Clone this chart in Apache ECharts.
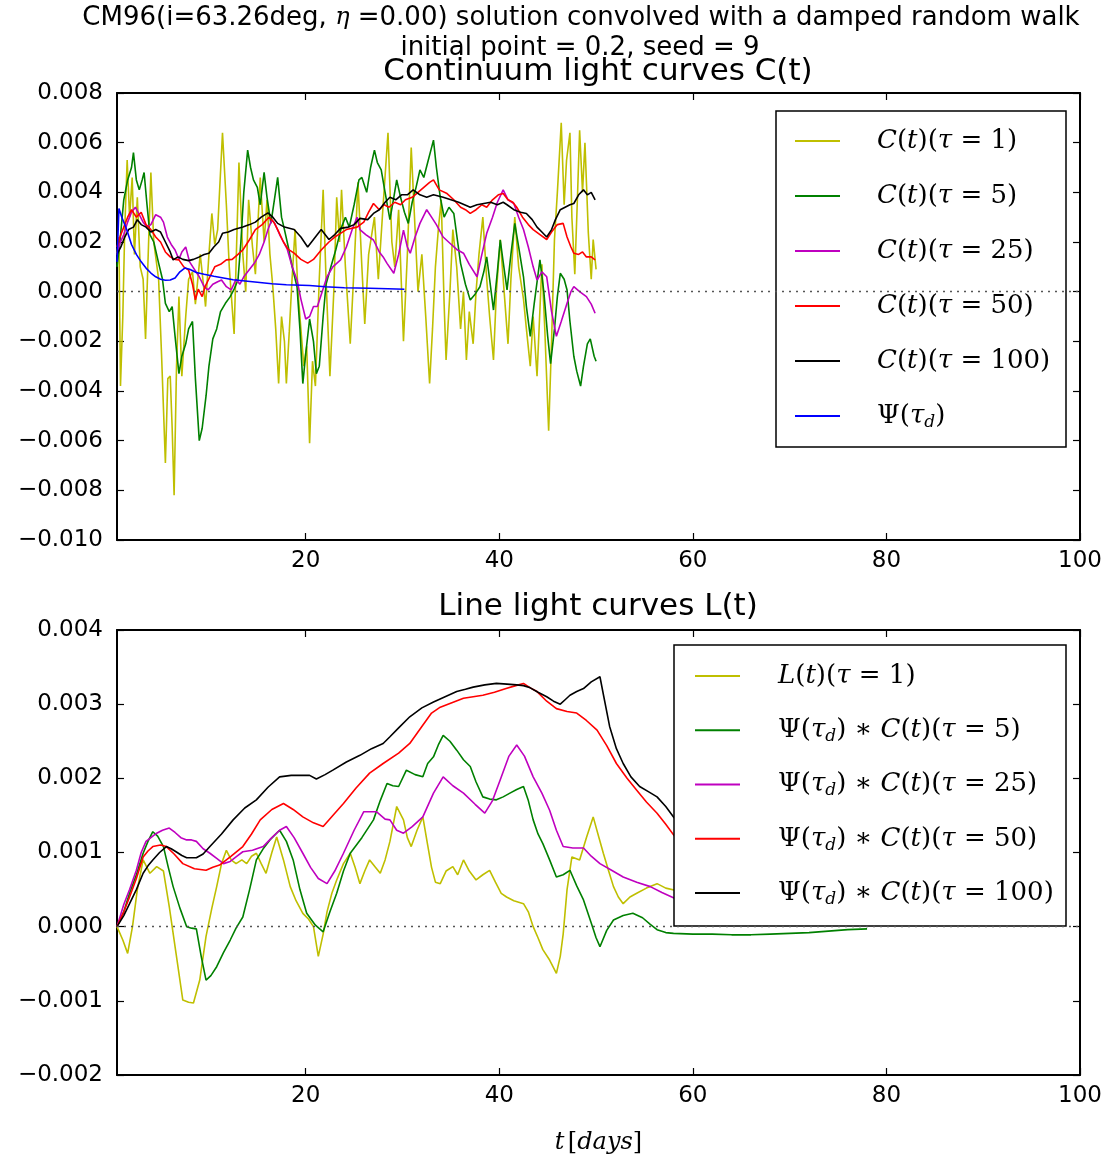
<!DOCTYPE html>
<html><head><meta charset="utf-8">
<script src="https://cdn.jsdelivr.net/npm/echarts@6/dist/echarts.min.js"></script>
<style>html,body{margin:0;padding:0;background:#fff}#c{width:1112px;height:1158px}</style>
</head><body><div id="c"></div>
<script>
// Values are in units of 1e-3 (axis labels show real values)
const SCALE = 0.001;
const xTicks = [20, 40, 60, 80, 100];

// ---- Top panel: continuum light curves C(t) ----
const C_tau1 = [[0.5,1.5],[0.7,2.2],[0.86,-3.8],[1.1,-1.0],[1.3,2.5],[1.55,5.3],[1.8,3.0],[2.07,4.6],[2.3,1.5],[2.6,3.8],[2.9,1.0],[3.2,0.5],[3.45,-1.9],[3.7,1.2],[4.0,4.8],[4.3,2.0],[4.8,0.5],[5.1,-2.5],[5.5,-6.9],[5.75,-3.5],[6.0,-3.4],[6.2,-5.5],[6.4,-8.2],[6.65,-3.0],[6.9,-0.2],[7.2,-3.4],[7.6,-1.0],[7.9,0.5],[8.3,0.8],[8.6,-0.5],[9.1,1.5],[9.4,0.4],[9.65,-0.6],[10.0,1.5],[10.3,3.15],[10.6,1.9],[10.9,2.5],[11.4,6.4],[11.8,3.5],[12.1,1.0],[12.6,-1.7],[13.1,5.2],[13.5,1.5],[13.8,0.0],[14.1,3.7],[14.5,1.8],[14.8,0.7],[15.3,4.6],[15.7,2.0],[16.0,3.7],[16.3,1.5],[16.6,0.2],[16.9,-1.5],[17.2,-3.7],[17.5,-1.0],[17.8,-2.0],[18.0,-3.7],[18.3,-1.6],[18.6,0.6],[18.9,2.5],[19.2,0.0],[19.5,-1.5],[19.8,-3.0],[20.1,-2.2],[20.4,-6.1],[20.7,-2.8],[21.0,-3.8],[21.4,0.5],[21.8,4.1],[22.1,0.5],[22.5,-3.4],[22.9,0.0],[23.2,3.8],[23.5,2.0],[23.7,4.1],[24.1,1.0],[24.6,-2.1],[25.0,1.0],[25.4,4.4],[25.8,1.0],[26.1,-1.3],[26.5,1.5],[27.1,3.0],[27.5,0.5],[28.0,3.5],[28.5,6.4],[28.9,2.0],[29.2,1.0],[29.6,3.3],[30.1,-2.0],[30.5,1.5],[30.9,5.8],[31.3,2.5],[31.6,0.0],[32.0,1.5],[32.4,-1.0],[32.8,-3.7],[33.1,-1.5],[33.4,1.0],[33.7,2.5],[34.0,3.7],[34.3,-0.5],[34.5,-2.75],[34.9,0.0],[35.2,2.5],[35.6,1.0],[36.0,-1.5],[36.3,0.0],[36.6,-2.75],[36.9,-0.8],[37.3,-2.1],[37.6,0.0],[37.9,1.5],[38.3,3.0],[38.7,0.5],[39.0,-1.0],[39.4,-2.75],[39.7,0.0],[40.1,2.1],[40.5,0.0],[40.9,-2.1],[41.2,0.5],[41.6,3.0],[42.0,1.0],[42.5,-0.3],[42.8,-1.5],[43.2,-3.0],[43.5,-1.0],[43.9,-3.4],[44.4,1.1],[44.7,-1.5],[45.1,-5.6],[45.4,-2.0],[45.7,2.1],[46.0,4.0],[46.4,6.8],[46.7,3.5],[46.95,5.3],[47.3,6.4],[47.5,3.0],[47.8,0.7],[48.05,3.5],[48.3,6.5],[48.6,4.0],[48.85,6.0],[49.2,2.35],[49.5,0.5],[49.7,2.1],[50.0,0.9]];
const C_tau5 = [[0.5,1.0],[0.8,2.0],[1.2,3.7],[1.6,4.5],[2.0,5.0],[2.2,5.6],[2.5,4.5],[2.8,4.1],[3.1,4.5],[3.3,4.8],[3.6,3.5],[3.9,2.3],[4.3,2.0],[4.8,1.15],[5.2,0.5],[5.5,-0.47],[5.9,-0.8],[6.2,-0.6],[6.5,-1.8],[6.9,-3.3],[7.2,-2.6],[7.6,-2.1],[7.9,-1.5],[8.3,-1.2],[8.6,-3.5],[9.0,-6.0],[9.3,-5.5],[9.7,-4.2],[10.0,-3.0],[10.4,-1.9],[10.8,-1.5],[11.2,-0.8],[11.7,-0.47],[12.2,-0.2],[12.6,0.1],[13.0,0.47],[13.3,2.0],[13.6,4.0],[14.0,5.7],[14.3,5.0],[14.6,4.5],[15.0,4.2],[15.3,3.5],[15.7,4.8],[16.0,3.8],[16.4,2.75],[16.8,3.8],[17.1,4.6],[17.5,3.0],[17.8,2.5],[18.2,1.8],[18.6,1.0],[19.1,0.2],[19.4,-1.5],[19.7,-3.7],[20.0,-2.5],[20.4,-1.1],[20.8,-2.0],[21.1,-3.3],[21.4,-3.0],[21.8,-1.0],[22.1,0.3],[22.6,1.0],[23.1,1.68],[23.7,2.6],[24.1,3.0],[24.5,2.6],[25.0,3.5],[25.5,4.5],[25.8,4.6],[26.3,4.0],[26.7,5.0],[27.1,5.7],[27.4,5.2],[27.8,4.9],[28.2,4.0],[28.7,2.9],[29.1,3.8],[29.4,4.5],[29.8,3.8],[30.2,3.2],[30.6,2.75],[31.0,3.6],[31.4,4.2],[31.8,4.9],[32.2,4.6],[32.6,5.2],[33.0,5.8],[33.2,6.1],[33.5,5.0],[33.9,3.8],[34.3,3.0],[34.8,3.4],[35.3,3.15],[35.7,2.0],[36.0,1.14],[36.5,0.3],[37.0,-0.34],[37.5,-0.1],[38.0,0.2],[38.4,0.8],[38.7,1.4],[39.0,0.5],[39.4,-0.74],[39.8,0.8],[40.1,2.08],[40.4,1.2],[40.8,0.07],[41.2,1.5],[41.6,2.75],[42.0,1.8],[42.5,0.6],[42.8,-0.6],[43.2,-1.8],[43.6,-0.5],[44.2,1.28],[44.6,0.0],[45.0,-1.8],[45.3,-2.9],[45.7,-1.5],[46.0,-0.2],[46.3,0.74],[46.7,0.5],[47.0,0.07],[47.3,-1.2],[47.7,-2.6],[48.0,-3.2],[48.4,-3.8],[48.7,-3.0],[49.1,-2.1],[49.4,-1.9],[49.8,-2.6],[50.0,-2.8]];
const C_tau25 = [[0.5,1.5],[0.8,1.95],[1.2,2.3],[1.6,2.8],[2.0,3.2],[2.4,3.4],[2.8,3.1],[3.2,2.8],[3.6,2.6],[4.0,2.7],[4.5,3.1],[5.0,3.0],[5.3,2.8],[5.7,2.2],[6.1,1.9],[6.5,1.68],[6.9,1.3],[7.2,1.6],[7.6,1.8],[8.0,1.2],[8.5,0.9],[9.0,0.6],[9.5,0.2],[9.9,0.07],[10.4,0.3],[10.9,0.4],[11.3,0.47],[11.8,0.2],[12.3,0.07],[12.8,0.5],[13.2,0.3],[13.6,0.6],[14.2,0.9],[14.7,1.15],[15.2,1.5],[15.7,2.0],[16.1,2.5],[16.5,2.9],[16.8,2.75],[17.3,2.3],[17.7,2.0],[18.1,1.7],[18.6,1.0],[19.1,0.47],[19.5,-0.3],[20.0,-1.1],[20.4,-1.0],[20.8,-0.6],[21.2,-0.6],[21.7,0.0],[22.2,0.6],[22.8,1.0],[23.6,1.28],[24.2,1.8],[24.8,2.5],[25.3,3.0],[25.6,2.5],[26.2,2.3],[27.0,2.08],[27.6,1.6],[28.0,1.4],[28.4,1.14],[29.1,0.74],[29.6,1.5],[30.1,2.48],[30.5,1.8],[30.8,1.55],[31.3,2.2],[31.8,2.75],[32.5,3.3],[33.0,3.0],[33.5,2.7],[34.2,2.2],[34.9,1.95],[35.6,1.7],[36.3,1.55],[36.9,1.1],[37.7,0.6],[38.2,1.5],[38.7,2.35],[39.3,3.0],[39.8,3.6],[40.4,4.1],[40.9,3.7],[41.5,3.55],[42.0,3.0],[42.5,2.5],[43.0,1.8],[43.5,1.0],[43.9,0.47],[44.4,0.8],[44.9,0.6],[45.4,-0.8],[45.9,-1.8],[46.4,-1.2],[47.0,-0.47],[47.4,0.0],[47.7,0.2],[48.3,0.0],[49.0,-0.2],[49.5,-0.5],[49.9,-0.87]];
const C_tau50 = [[0.5,1.8],[0.8,2.2],[1.2,2.6],[1.6,3.0],[2.0,3.3],[2.5,3.0],[3.0,3.2],[3.5,2.7],[4.0,2.5],[4.5,2.2],[5.0,2.0],[5.5,1.6],[6.0,1.4],[6.5,1.3],[6.9,1.28],[7.4,1.0],[7.9,0.87],[8.3,0.3],[8.6,-0.33],[8.9,0.1],[9.3,-0.2],[9.6,0.2],[10.1,0.6],[10.6,1.0],[11.2,1.1],[11.8,1.28],[12.4,1.3],[13.0,1.5],[13.5,1.68],[14.2,2.1],[14.8,2.5],[15.5,2.7],[16.2,3.0],[16.7,2.8],[17.1,2.5],[17.7,2.0],[18.2,1.7],[18.8,1.55],[19.5,1.3],[20.2,1.15],[20.8,1.3],[21.6,1.68],[22.4,2.0],[23.0,2.2],[23.6,2.35],[24.2,2.5],[25.3,2.6],[26.0,2.8],[26.5,3.2],[27.0,3.55],[27.6,3.3],[28.1,3.5],[28.6,3.4],[29.2,3.6],[29.8,3.5],[30.3,3.7],[31.0,3.8],[31.6,4.0],[32.2,4.2],[32.8,4.4],[33.2,4.5],[33.8,4.1],[34.6,3.95],[35.3,3.7],[36.0,3.4],[36.5,3.3],[37.0,3.15],[37.6,3.3],[38.2,3.5],[38.7,3.4],[39.3,3.7],[39.9,3.9],[40.4,3.95],[40.9,3.7],[41.4,3.6],[41.8,3.4],[42.4,3.0],[43.0,2.7],[43.5,2.5],[44.2,2.3],[44.9,2.1],[45.4,2.4],[46.0,2.7],[46.6,2.75],[47.0,2.2],[47.4,1.8],[47.7,1.55],[48.2,1.5],[48.6,1.6],[49.0,1.4],[49.5,1.4],[49.9,1.28]];
const C_tau100 = [[0.5,1.5],[0.9,1.8],[1.3,2.2],[1.7,2.5],[2.2,2.6],[2.6,2.9],[3.0,2.7],[3.5,2.6],[4.0,2.4],[4.5,2.5],[5.0,2.4],[5.5,2.0],[6.0,1.6],[6.3,1.28],[6.8,1.4],[7.3,1.3],[7.9,1.25],[8.4,1.3],[9.0,1.4],[9.5,1.5],[10.0,1.55],[10.5,1.8],[11.0,2.0],[11.4,2.35],[12.0,2.4],[12.6,2.5],[13.5,2.6],[14.2,2.7],[14.8,2.8],[15.4,3.0],[16.1,3.17],[16.6,3.0],[17.1,2.75],[17.8,2.6],[18.8,2.5],[19.5,2.2],[20.2,1.8],[20.8,2.1],[21.6,2.5],[22.4,2.1],[23.0,2.3],[23.6,2.55],[24.4,2.6],[25.0,2.7],[25.6,2.95],[26.4,2.9],[27.0,3.15],[27.6,3.3],[28.2,3.6],[28.7,3.8],[29.3,3.7],[29.9,3.9],[30.5,3.9],[31.1,4.1],[31.8,3.9],[32.5,3.8],[33.2,3.9],[34.2,3.8],[35.0,3.7],[35.8,3.6],[36.4,3.5],[37.0,3.4],[37.7,3.5],[38.4,3.55],[39.1,3.6],[39.8,3.5],[40.4,3.6],[40.8,3.5],[41.5,3.3],[42.2,3.2],[42.8,3.15],[43.4,2.9],[43.9,2.6],[44.4,2.4],[44.9,2.2],[45.4,2.5],[45.8,2.9],[46.3,3.3],[46.8,3.4],[47.3,3.5],[47.7,3.55],[48.2,3.9],[48.7,4.1],[49.1,3.9],[49.5,4.0],[49.9,3.7]];
const Psi_td = [[0.5,1.2],[0.7,3.35],[1.0,3.0],[1.5,2.5],[2.0,1.9],[2.5,1.5],[3.0,1.2],[3.5,0.95],[4.0,0.75],[4.5,0.6],[5.0,0.5],[5.5,0.46],[6.0,0.47],[6.5,0.55],[7.0,0.8],[7.5,0.95],[8.0,0.9],[8.7,0.77],[9.5,0.7],[10.5,0.62],[11.5,0.55],[12.5,0.48],[13.5,0.44],[15.0,0.38],[16.5,0.32],[18.0,0.28],[20.4,0.25],[22.0,0.2],[24.0,0.16],[26.6,0.14],[28.5,0.12],[30.2,0.1]];

// ---- Bottom panel: line light curves L(t) ----
const L_tau1 = [[0.5,0.0],[1.1,-0.18],[1.6,-0.36],[2.1,0.0],[2.6,0.5],[3.2,0.9],[3.9,0.72],[4.6,0.81],[5.3,0.75],[5.9,0.27],[6.6,-0.36],[7.3,-0.99],[7.9,-1.02],[8.4,-1.03],[9.05,-0.72],[9.7,-0.13],[10.3,0.25],[10.8,0.54],[11.3,0.85],[11.8,1.03],[12.3,0.9],[12.8,0.85],[13.4,0.9],[13.9,0.85],[14.4,0.95],[14.9,0.99],[15.4,0.85],[15.9,0.72],[16.5,1.0],[17.0,1.21],[17.7,0.9],[18.4,0.54],[19.0,0.35],[19.7,0.18],[20.3,0.1],[20.8,0.0],[21.3,-0.4],[21.8,-0.1],[22.2,0.2],[22.7,0.45],[23.2,0.63],[23.9,0.85],[24.6,0.99],[25.1,0.8],[25.6,0.58],[26.1,0.75],[26.6,0.9],[27.2,0.8],[27.7,0.72],[28.2,0.9],[28.7,1.15],[29.4,1.62],[30.1,1.44],[30.5,1.2],[30.9,1.08],[31.5,1.3],[32.1,1.48],[32.6,1.1],[33.0,0.8],[33.4,0.6],[33.9,0.58],[34.5,0.75],[35.2,0.81],[35.7,0.7],[36.3,0.9],[36.9,0.75],[37.6,0.63],[38.3,0.7],[39.0,0.76],[39.6,0.6],[40.2,0.45],[40.75,0.4],[41.5,0.35],[42.5,0.31],[43.0,0.2],[43.5,0.0],[44.0,-0.15],[44.5,-0.31],[45.2,-0.45],[45.9,-0.63],[46.3,-0.4],[46.6,-0.1],[47.0,0.5],[47.5,0.94],[48.3,0.9],[49.0,1.2],[49.7,1.48],[50.3,1.2],[50.75,0.99],[51.3,0.75],[51.8,0.54],[52.3,0.4],[52.8,0.31],[53.5,0.4],[54.2,0.45],[55.2,0.52],[56.3,0.58],[57.2,0.52],[58.5,0.48]];
const PsiC_tau5 = [[0.5,0.0],[1.2,0.2],[1.8,0.45],[2.5,0.7],[3.2,0.99],[3.7,1.15],[4.2,1.28],[4.7,1.22],[5.3,1.08],[5.8,0.8],[6.3,0.54],[7.0,0.25],[7.7,0.0],[8.2,-0.02],[8.7,-0.03],[9.2,-0.4],[9.7,-0.72],[10.2,-0.66],[10.8,-0.54],[11.5,-0.35],[12.2,-0.18],[12.8,-0.02],[13.5,0.13],[14.2,0.5],[14.9,0.9],[15.6,1.05],[16.3,1.17],[17.3,1.3],[18.0,1.15],[18.7,0.9],[19.4,0.5],[20.1,0.18],[21.0,0.02],[21.8,-0.07],[22.5,0.2],[23.2,0.45],[23.9,0.75],[24.6,0.99],[25.8,1.2],[27.0,1.44],[27.7,1.7],[28.4,1.93],[29.0,1.9],[29.6,1.89],[30.4,2.11],[31.3,2.05],[32.1,2.02],[32.6,2.2],[33.2,2.29],[33.7,2.45],[34.2,2.58],[34.9,2.5],[35.6,2.38],[36.3,2.25],[37.0,2.16],[37.6,1.95],[38.3,1.75],[39.0,1.72],[39.7,1.71],[40.4,1.75],[41.1,1.8],[41.8,1.85],[42.5,1.89],[43.0,1.7],[43.5,1.44],[44.0,1.25],[44.5,1.12],[45.2,0.9],[45.9,0.67],[46.6,0.7],[47.3,0.76],[48.0,0.55],[48.7,0.36],[49.5,0.05],[50.0,-0.15],[50.4,-0.27],[51.1,-0.05],[51.8,0.09],[52.8,0.15],[53.8,0.18],[54.8,0.12],[55.6,0.03],[56.3,-0.04],[57.2,-0.08],[58.0,-0.09],[60.0,-0.1],[62.0,-0.1],[64.0,-0.11],[66.0,-0.11],[68.0,-0.1],[70.0,-0.09],[72.0,-0.08],[74.0,-0.06],[76.0,-0.04],[78.0,-0.03]];
const PsiC_tau25 = [[0.5,0.0],[1.2,0.3],[1.8,0.5],[2.5,0.76],[3.0,1.0],[3.5,1.15],[4.0,1.2],[4.6,1.26],[5.2,1.3],[5.9,1.33],[6.5,1.27],[7.1,1.2],[7.7,1.17],[8.2,1.17],[8.7,1.15],[9.4,1.05],[10.1,0.99],[10.8,0.92],[11.5,0.85],[12.2,0.88],[12.9,0.95],[13.5,1.01],[14.5,1.03],[15.6,1.08],[16.5,1.2],[17.3,1.3],[18.0,1.35],[18.8,1.2],[19.7,0.99],[20.5,0.8],[21.3,0.65],[22.2,0.58],[23.0,0.75],[23.9,0.99],[25.0,1.3],[26.0,1.55],[27.3,1.55],[28.2,1.45],[28.7,1.44],[29.4,1.3],[30.1,1.26],[31.0,1.35],[32.1,1.48],[33.2,1.8],[34.2,2.02],[35.2,1.9],[36.3,1.8],[37.5,1.65],[38.5,1.53],[39.3,1.7],[40.1,1.98],[41.0,2.3],[41.8,2.45],[42.6,2.3],[43.5,2.02],[44.4,1.8],[45.2,1.57],[45.9,1.3],[46.6,1.08],[47.6,1.06],[48.7,1.06],[49.5,0.95],[50.4,0.85],[51.6,0.76],[52.8,0.67],[54.2,0.6],[55.6,0.54],[56.8,0.46],[58.5,0.36]];
const PsiC_tau50 = [[0.5,0.0],[1.2,0.2],[1.8,0.4],[2.5,0.65],[3.2,0.94],[3.7,1.02],[4.2,1.08],[5.0,1.1],[5.6,1.08],[6.4,0.98],[7.3,0.85],[8.5,0.78],[9.7,0.76],[10.4,0.8],[11.1,0.83],[12.3,0.95],[13.5,1.08],[14.4,1.25],[15.3,1.44],[16.5,1.58],[17.7,1.66],[18.7,1.58],[19.7,1.48],[20.8,1.4],[21.8,1.35],[22.8,1.5],[23.9,1.66],[25.2,1.87],[26.6,2.07],[28.0,2.2],[29.6,2.34],[30.75,2.47],[32.0,2.7],[33.0,2.88],[33.9,2.96],[35.1,3.02],[36.3,3.08],[37.3,3.1],[38.3,3.12],[39.5,3.16],[40.7,3.21],[41.7,3.25],[42.5,3.28],[43.2,3.22],[43.9,3.17],[44.9,3.04],[45.9,2.94],[47.0,2.9],[48.0,2.88],[49.0,2.78],[50.1,2.65],[51.1,2.44],[52.1,2.2],[53.2,2.0],[54.2,1.84],[55.2,1.68],[56.3,1.53],[57.2,1.38],[58.5,1.15]];
const PsiC_tau100 = [[0.5,0.0],[1.2,0.15],[1.8,0.31],[2.5,0.5],[3.2,0.72],[3.7,0.82],[4.2,0.9],[4.9,1.0],[5.6,1.08],[6.1,1.05],[6.6,1.01],[7.2,0.96],[7.7,0.93],[8.7,0.93],[9.4,0.98],[10.1,1.08],[11.3,1.25],[12.5,1.44],[13.7,1.6],[14.9,1.71],[16.1,1.88],[17.3,2.02],[18.5,2.04],[19.5,2.04],[20.4,2.04],[21.1,1.99],[22.0,2.05],[22.8,2.11],[24.2,2.22],[25.6,2.31],[26.8,2.4],[28.0,2.47],[28.7,2.56],[29.6,2.68],[30.75,2.83],[32.0,2.95],[33.2,3.03],[34.4,3.1],[35.6,3.17],[36.5,3.2],[37.3,3.23],[38.5,3.26],[39.7,3.28],[40.8,3.27],[41.8,3.26],[42.5,3.25],[43.2,3.22],[44.0,3.16],[44.9,3.1],[45.6,3.04],[46.3,3.0],[46.8,3.06],[47.3,3.12],[48.0,3.17],[48.7,3.21],[49.5,3.3],[50.4,3.37],[50.8,3.1],[51.4,2.7],[52.1,2.4],[52.8,2.2],[53.6,2.02],[54.5,1.89],[55.4,1.82],[56.3,1.75],[57.2,1.62],[58.0,1.48],[58.5,1.4]];

const topNames = ['C(t)(τ=1)', 'C(t)(τ=5)', 'C(t)(τ=25)', 'C(t)(τ=50)', 'C(t)(τ=100)', 'Ψ(τd)'];
const botNames = ['L(t)(τ=1)', 'Ψ(τd)∗C(t)(τ=5)', 'Ψ(τd)∗C(t)(τ=25)', 'Ψ(τd)∗C(t)(τ=50)', 'Ψ(τd)∗C(t)(τ=100)'];
const topData = [C_tau1, C_tau5, C_tau25, C_tau50, C_tau100, Psi_td];
const botData = [L_tau1, PsiC_tau5, PsiC_tau25, PsiC_tau50, PsiC_tau100];
const topColors = ['#bfbf00', '#008000', '#bf00bf', '#ff0000', '#000000', '#0000ff'];
const botColors = ['#bfbf00', '#008000', '#bf00bf', '#ff0000', '#000000'];

const tauPart = n => '{n|(}{i|τ}{n| = ' + n + ')}';
const psiPart = '{n|Ψ(}{i|τ}{s|d}{n|)}';
const LEG = {
  'C(t)(τ=1)': '{i|C}{n|(}{i|t}{n|)}' + tauPart(1),
  'C(t)(τ=5)': '{i|C}{n|(}{i|t}{n|)}' + tauPart(5),
  'C(t)(τ=25)': '{i|C}{n|(}{i|t}{n|)}' + tauPart(25),
  'C(t)(τ=50)': '{i|C}{n|(}{i|t}{n|)}' + tauPart(50),
  'C(t)(τ=100)': '{i|C}{n|(}{i|t}{n|)}' + tauPart(100),
  'Ψ(τd)': psiPart,
  'L(t)(τ=1)': '{i|L}{n|(}{i|t}{n|)}' + tauPart(1),
  'Ψ(τd)∗C(t)(τ=5)': psiPart + '{n| ∗ }{i|C}{n|(}{i|t}{n|)}' + tauPart(5),
  'Ψ(τd)∗C(t)(τ=25)': psiPart + '{n| ∗ }{i|C}{n|(}{i|t}{n|)}' + tauPart(25),
  'Ψ(τd)∗C(t)(τ=50)': psiPart + '{n| ∗ }{i|C}{n|(}{i|t}{n|)}' + tauPart(50),
  'Ψ(τd)∗C(t)(τ=100)': psiPart + '{n| ∗ }{i|C}{n|(}{i|t}{n|)}' + tauPart(100)
};

const SERIF = 'DejaVu Serif';
const SANS = 'DejaVu Sans';
const LFS = 26;
const richMath = {
  n: { fontFamily: SERIF, fontSize: LFS, lineHeight: 30, color: '#000' },
  i: { fontFamily: SERIF, fontSize: LFS, lineHeight: 30, fontStyle: 'italic', color: '#000' },
  s: { fontFamily: SERIF, fontSize: 17, lineHeight: 14, fontStyle: 'italic', verticalAlign: 'bottom', color: '#000' }
};

const chart = echarts.init(document.getElementById('c'));

function yFmt(v) { return (v * SCALE).toFixed(3).replace('-', '\u2212'); }

const frame = { show: true, onZero: false, lineStyle: { color: '#000', width: 2 } };
const tickS = { show: true, inside: true, length: 7, lineStyle: { color: '#000', width: 1.2 } };
const lblS = { fontFamily: SANS, fontSize: 23, color: '#000' };

function xAxes(g, withName) {
  const bottom = {
    gridIndex: g, type: 'value', min: 0.5, max: 100, position: 'bottom',
    axisLine: frame, axisTick: Object.assign({ customValues: xTicks }, tickS),
    axisLabel: Object.assign({ customValues: xTicks, margin: 10 }, lblS),
    splitLine: { show: false }
  };
  if (withName) {
    bottom.name = '{i|t} {n|[}{i|days}{n|]}';
    bottom.nameLocation = 'middle';
    bottom.nameGap = 56;
    bottom.nameTextStyle = { rich: {
      n: { fontFamily: SERIF, fontSize: 24, color: '#000' },
      i: { fontFamily: SERIF, fontSize: 24, fontStyle: 'italic', color: '#000' } } };
  }
  const top = {
    gridIndex: g, type: 'value', min: 0.5, max: 100, position: 'top',
    axisLine: frame, axisTick: Object.assign({ customValues: xTicks }, tickS),
    axisLabel: { show: false }, splitLine: { show: false }
  };
  return [bottom, top];
}
function yAxes(g, mn, mx, iv) {
  return [
    { gridIndex: g, type: 'value', min: mn, max: mx, interval: iv, position: 'left',
      axisLine: frame, axisTick: tickS, axisLabel: Object.assign({ formatter: yFmt, margin: 14 }, lblS),
      splitLine: { show: false } },
    { gridIndex: g, type: 'value', min: mn, max: mx, interval: iv, position: 'right',
      axisLine: frame, axisTick: tickS, axisLabel: { show: false }, splitLine: { show: false } }
  ];
}

const zeroLine = {
  silent: true, symbol: ['none', 'none'], animation: false,
  label: { show: false },
  lineStyle: { color: '#555', width: 1.3, type: [2, 5] },
  data: [{ yAxis: 0 }]
};

const series = [];
topNames.forEach((nm, k) => {
  const s = { name: nm, type: 'line', xAxisIndex: 0, yAxisIndex: 0, data: topData[k],
    showSymbol: false, symbol: 'none', color: topColors[k], itemStyle: { color: topColors[k] },
    lineStyle: { color: topColors[k], width: 1.6 }, animation: false };
  if (k === 0) s.markLine = zeroLine;
  series.push(s);
});
botNames.forEach((nm, k) => {
  const s = { name: nm, type: 'line', xAxisIndex: 2, yAxisIndex: 2, data: botData[k],
    showSymbol: false, symbol: 'none', color: botColors[k], itemStyle: { color: botColors[k] },
    lineStyle: { color: botColors[k], width: 1.6 }, animation: false };
  if (k === 0) s.markLine = zeroLine;
  series.push(s);
});

function legendCfg(names, left, top, pad, gap, txtPadL, txtW, txtPadR) {
  return {
    data: names, orient: 'vertical', left: left, top: top, padding: pad, itemGap: gap,
    itemWidth: 45, itemHeight: 2, icon: 'rect', selectedMode: false,
    backgroundColor: '#fff', borderColor: '#000', borderWidth: 1.5,
    formatter: name => LEG[name],
    textStyle: { fontFamily: SERIF, fontSize: LFS, lineHeight: 30, color: '#000',
      width: txtW, padding: [0, txtPadR, 0, txtPadL], backgroundColor: 'rgba(255,255,255,0)',
      rich: richMath }
  };
}

const option = {
  animation: false,
  backgroundColor: '#fff',
  grid: [
    { left: 117, top: 93, width: 963, height: 447 },
    { left: 117, top: 630, width: 963, height: 445 }
  ],
  xAxis: xAxes(0, false).concat(xAxes(1, true)),
  yAxis: yAxes(0, -10, 8, 2).concat(yAxes(1, -2, 4, 1)),
  legend: [
    legendCfg(topNames, 776, 111, [15, 0, 16, 19], 25, 32, 170, 19),
    legendCfg(botNames, 674, 645, [16, 0, 18, 21], 24.25, 33, 270, 18)
  ],
  graphic: [
    { type: 'text', x: 581, y: 18, style: {
      text: '{n|CM96(i=63.26deg, }{m|η}{n| =0.00) solution convolved with a damped random walk}',
      align: 'center', verticalAlign: 'middle', textAlign: 'center', textVerticalAlign: 'middle',
      rich: { n: { fontFamily: SANS, fontSize: 26, fill: '#000', color: '#000' },
              m: { fontFamily: SERIF, fontStyle: 'italic', fontSize: 24, fill: '#000', color: '#000' } } } },
    { type: 'text', x: 580, y: 48, style: {
      text: 'initial point = 0.2, seed = 9', font: '26px "DejaVu Sans"', fill: '#000',
      align: 'center', verticalAlign: 'middle', textAlign: 'center', textVerticalAlign: 'middle' } },
    { type: 'text', x: 598, y: 72, style: {
      text: 'Continuum light curves C(t)', font: '31px "DejaVu Sans"', fill: '#000',
      align: 'center', verticalAlign: 'middle', textAlign: 'center', textVerticalAlign: 'middle' } },
    { type: 'text', x: 598, y: 607, style: {
      text: 'Line light curves L(t)', font: '31px "DejaVu Sans"', fill: '#000',
      align: 'center', verticalAlign: 'middle', textAlign: 'center', textVerticalAlign: 'middle' } }
  ],
  series: series
};
chart.setOption(option);
</script>
</body></html>
